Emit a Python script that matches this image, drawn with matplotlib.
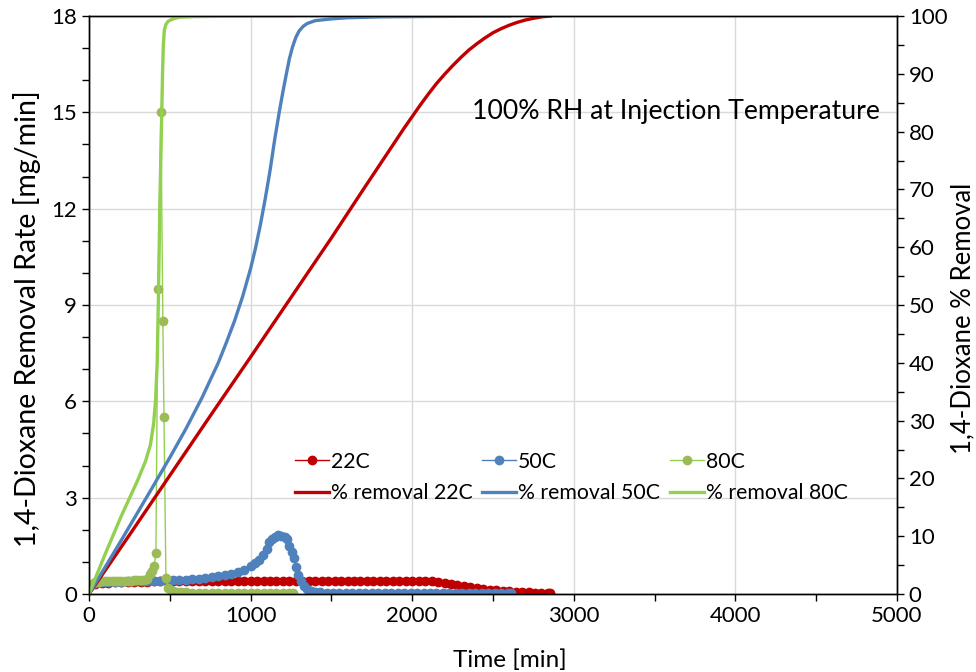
import matplotlib
matplotlib.use('Agg')
import matplotlib.pyplot as plt
from matplotlib.ticker import MultipleLocator

plt.rcParams['font.family'] = ['Lato', 'DejaVu Sans']

# Removal rate [mg/min] vs time [min]
t_22 = [0, 40, 80, 120, 160, 200, 240, 280, 320, 360, 400, 440, 480, 520, 560, 600, 640, 680,
        720, 760, 800, 840, 880, 920, 960, 1000, 1040, 1080, 1120, 1160, 1200, 1240, 1280, 1320,
        1360, 1400, 1440, 1480, 1520, 1560, 1600, 1640, 1680, 1720, 1760, 1800, 1840, 1880, 1920,
        1960, 2000, 2040, 2080, 2120, 2160, 2200, 2240, 2280, 2320, 2360, 2400, 2440, 2480, 2520,
        2560, 2600, 2640, 2680, 2720, 2760, 2800, 2840, 2855]
rate_22 = [0.25, 0.30, 0.33, 0.35, 0.36, 0.37, 0.37, 0.38, 0.38, 0.38, 0.39, 0.39, 0.39, 0.40,
           0.40, 0.40, 0.40, 0.41, 0.41, 0.41, 0.41, 0.41, 0.41, 0.41, 0.42, 0.42, 0.42, 0.42,
           0.42, 0.42, 0.42, 0.42, 0.42, 0.42, 0.42, 0.42, 0.42, 0.42, 0.42, 0.42, 0.42, 0.42,
           0.42, 0.42, 0.42, 0.42, 0.42, 0.42, 0.42, 0.42, 0.42, 0.42, 0.41, 0.40, 0.38, 0.35,
           0.32, 0.28, 0.25, 0.22, 0.19, 0.17, 0.14, 0.12, 0.10, 0.08, 0.07, 0.06, 0.05, 0.04,
           0.03, 0.02, 0.02]

t_50 = [0, 40, 80, 120, 160, 200, 240, 280, 320, 360, 400, 440, 480, 520, 560, 600, 640, 680,
        720, 760, 800, 840, 880, 920, 960, 1000, 1025, 1050, 1075, 1100, 1115, 1130, 1150, 1170,
        1190, 1210, 1225, 1240, 1255, 1270, 1280, 1295, 1310, 1330, 1350, 1375, 1400, 1430, 1470,
        1510, 1550, 1590, 1630, 1670, 1710, 1750, 1790, 1830, 1870, 1910, 1950, 1990, 2030, 2070,
        2110, 2150, 2190, 2230, 2270, 2310, 2350, 2390, 2430, 2470, 2510, 2550, 2590, 2612]
rate_50 = [0.28, 0.33, 0.36, 0.37, 0.38, 0.38, 0.39, 0.39, 0.40, 0.40, 0.41, 0.41, 0.42, 0.43,
           0.44, 0.45, 0.46, 0.48, 0.50, 0.52, 0.55, 0.58, 0.62, 0.68, 0.76, 0.86, 0.95, 1.05,
           1.20, 1.40, 1.62, 1.70, 1.78, 1.84, 1.82, 1.79, 1.70, 1.50, 1.30, 1.12, 0.85, 0.60,
           0.42, 0.26, 0.16, 0.10, 0.07, 0.05, 0.04, 0.03, 0.03, 0.03, 0.03, 0.03, 0.03, 0.03,
           0.03, 0.03, 0.02, 0.02, 0.02, 0.02, 0.02, 0.02, 0.02, 0.02, 0.02, 0.02, 0.02, 0.02,
           0.02, 0.02, 0.02, 0.02, 0.02, 0.02, 0.02, 0.02]

t_80 = [0, 20, 40, 60, 80, 100, 120, 140, 160, 180, 200, 220, 240, 260, 280, 300, 320, 340, 360,
        377, 390, 402, 414, 427, 445, 457, 464, 476, 490, 505, 520, 542, 570, 600, 640, 680, 720,
        760, 800, 840, 880, 920, 960, 1000, 1040, 1080, 1120, 1160, 1200, 1240, 1265]
rate_80 = [0.22, 0.32, 0.36, 0.38, 0.39, 0.40, 0.40, 0.40, 0.41, 0.41, 0.41, 0.42, 0.42, 0.42,
           0.43, 0.43, 0.44, 0.45, 0.48, 0.62, 0.72, 0.87, 1.27, 9.5, 15.0, 8.5, 5.5, 0.50, 0.18,
           0.12, 0.09, 0.06, 0.05, 0.05, 0.04, 0.04, 0.04, 0.03, 0.03, 0.03, 0.03, 0.03, 0.03,
           0.03, 0.03, 0.02, 0.02, 0.02, 0.02, 0.02, 0.02]

# Cumulative % removal vs time [min]
pt_22 = [0, 250, 500, 750, 1000, 1250, 1500, 1700, 1800, 1900, 1950, 2000, 2050, 2100, 2150,
         2200, 2250, 2300, 2350, 2400, 2450, 2500, 2550, 2600, 2650, 2700, 2750, 2800, 2855]
pct_22 = [0, 10.2, 20.5, 30.8, 41.0, 51.3, 61.6, 70.1, 74.3, 78.5, 80.6, 82.6, 84.6, 86.5, 88.3,
          89.9, 91.4, 92.8, 94.1, 95.2, 96.2, 97.1, 97.8, 98.4, 98.9, 99.3, 99.6, 99.85, 100]

pt_50 = [0, 200, 400, 500, 600, 700, 800, 850, 900, 950, 1000, 1030, 1060, 1090, 1120, 1150,
         1180, 1200, 1220, 1240, 1260, 1280, 1300, 1325, 1350, 1400, 1500, 1600, 1800, 2000, 2300,
         2605]
pct_50 = [0, 9.3, 18.8, 23.6, 28.6, 34.0, 40.0, 43.5, 47.2, 51.4, 56.3, 59.8, 63.8, 68.3, 73.2,
          78.8, 83.8, 86.9, 89.8, 92.6, 94.7, 96.3, 97.4, 98.2, 98.7, 99.2, 99.5, 99.7, 99.85,
          99.9, 99.95, 100]

pt_80 = [0, 100, 200, 300, 350, 380, 400, 412, 422, 430, 439, 445, 450, 455, 460, 466, 475, 490,
         520, 560, 650, 800, 1262]
pct_80 = [0, 6.9, 13.5, 19.6, 23.0, 25.8, 29.5, 33.5, 40.0, 52.0, 68.0, 76.0, 83.0, 90.0, 95.0,
          97.5, 98.5, 99.1, 99.5, 99.8, 99.9, 99.95, 100]

red = '#C00000'
blue = '#4F81BD'
green_mk = '#9BBB59'
green_ln = '#92D050'

fig = plt.figure(figsize=(9.76, 6.72), dpi=100)
ax = fig.add_axes([89 / 976, 78 / 672, 808 / 976, 578 / 672])
ax2 = ax.twinx()

l1, = ax.plot(t_22, rate_22, color=red, marker='o', ms=6, lw=1, label='22C')
l2, = ax.plot(t_50, rate_50, color=blue, marker='o', ms=6, lw=1, label='50C')
l3, = ax.plot(t_80, rate_80, color=green_ln, marker='o', ms=6, mfc=green_mk, mec=green_mk,
              lw=1, label='80C')

p1, = ax2.plot(pt_22, pct_22, color=red, lw=2.4, label='% removal 22C')
p2, = ax2.plot(pt_50, pct_50, color=blue, lw=2.4, label='% removal 50C')
p3, = ax2.plot(pt_80, pct_80, color=green_ln, lw=2.4, label='% removal 80C')

ax.set_xlim(0, 5000)
ax.set_ylim(0, 18)
ax2.set_ylim(0, 100)

ax.xaxis.set_major_locator(MultipleLocator(1000))
ax.xaxis.set_minor_locator(MultipleLocator(500))
ax.yaxis.set_major_locator(MultipleLocator(3))
ax.yaxis.set_minor_locator(MultipleLocator(1))
ax2.yaxis.set_major_locator(MultipleLocator(10))
ax2.yaxis.set_minor_locator(MultipleLocator(5))

ax.grid(True, which='major', color='#D9D9D9', lw=1)
ax.set_axisbelow(True)

for a in (ax, ax2):
    a.tick_params(which='both', direction='out', length=5, width=1, color='black',
                  labelsize=16)
    for s in a.spines.values():
        s.set_color('black')
        s.set_linewidth(1)

ax.set_xlabel('Time [min]', fontsize=17.5)
ax.xaxis.set_label_coords(0.521, -0.095)
ax.set_ylabel('1,4-Dioxane Removal Rate [mg/min]', fontsize=20.5)
ax.yaxis.set_label_coords(-0.06, 0.477)
ax2.set_ylabel('1,4-Dioxane % Removal', fontsize=18.5)
ax2.yaxis.set_label_coords(1.066, 0.477)

ax.text(0.979, 0.834, '100% RH at Injection Temperature', transform=ax.transAxes,
        ha='right', va='center', fontsize=19.2)

ax2.legend(handles=[l1, p1, l2, p2, l3, p3], ncol=3, loc='upper left',
           bbox_to_anchor=(0.236, 0.272), frameon=False, fontsize=15.3,
           handlelength=1.6, handletextpad=0.1, columnspacing=0.45, labelspacing=0.55,
           borderpad=0.2)

fig.savefig('out.png', dpi=100)
